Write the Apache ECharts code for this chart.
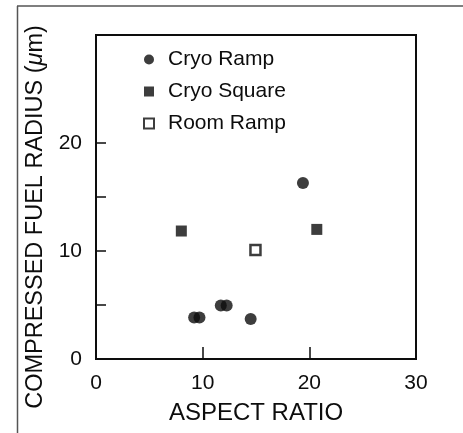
<!DOCTYPE html>
<html>
<head>
<meta charset="utf-8">
<script src="https://cdn.jsdelivr.net/npm/echarts@6/dist/echarts.min.js"></script>
<style>
  html, body { margin: 0; padding: 0; background: #fff; }
  #chart { width: 463px; height: 433px; }
</style>
</head>
<body>
<div id="chart"></div>
<script>
// Aspect ratio vs. compressed fuel radius, three target/pulse groups
const cryoRampAspect = [19.4, 9.2, 9.7, 11.7, 12.25, 14.5];
const cryoRampRadius = [16.3, 3.85, 3.85, 4.95, 4.95, 3.7];

const cryoSquareAspect = [8.0, 20.7];
const cryoSquareRadius = [11.85, 12.0];

const roomRampAspect = [14.95];
const roomRampRadius = [10.1];

const xTickValues = [10, 20];
const xLabelValues = [0, 10, 20, 30];
const yTickValues = [5, 10, 15, 20];
const yLabelValues = [0, 10, 20];

const pairs = (xs, ys) => xs.map((x, i) => [x, ys[i]]);

const FONT = "'Liberation Sans', Arial, Helvetica, sans-serif";
const INK = '#0d0d0d';

const chart = echarts.init(document.getElementById('chart'), null, { renderer: 'canvas' });

chart.setOption({
  backgroundColor: '#ffffff',
  animation: false,
  textStyle: { fontFamily: FONT, color: INK },
  grid: {
    left: 96, top: 35, width: 320, height: 324,
    show: true, borderColor: INK, borderWidth: 2, backgroundColor: 'transparent'
  },
  legend: {
    orient: 'vertical',
    left: 138, top: 44,
    itemWidth: 10, itemHeight: 10,
    itemGap: 11,
    selectedMode: false,
    textStyle: { fontFamily: FONT, fontSize: 21, lineHeight: 21, color: INK, padding: [0, 0, 0, 9] },
    data: ['Cryo Ramp', 'Cryo Square', 'Room Ramp']
  },
  xAxis: {
    type: 'value', min: 0, max: 30, interval: 10,
    name: 'ASPECT RATIO', nameLocation: 'middle', nameGap: 42,
    nameTextStyle: { fontFamily: FONT, fontSize: 24, color: INK },
    axisLine: { show: true, onZero: false, lineStyle: { color: INK, width: 2 } },
    axisTick: { show: true, inside: true, length: 12, customValues: xTickValues, lineStyle: { color: INK, width: 1.5 } },
    axisLabel: { customValues: xLabelValues, margin: 14, fontFamily: FONT, fontSize: 21, color: INK },
    splitLine: { show: false }
  },
  yAxis: {
    type: 'value', min: 0, max: 30, interval: 5,
    name: 'COMPRESSED FUEL RADIUS ({mu|μ}m)', nameLocation: 'middle', nameGap: 42,
    nameRotate: 90,
    nameTextStyle: {
      fontFamily: FONT, fontSize: 23.5, color: INK, padding: [0, 40, 0, 0],
      rich: { mu: { fontFamily: FONT, fontSize: 23.5, fontStyle: 'italic', color: INK } }
    },
    axisLine: { show: true, onZero: false, lineStyle: { color: INK, width: 2 } },
    axisTick: { show: true, inside: true, length: 10, customValues: yTickValues, lineStyle: { color: INK, width: 1.5 } },
    axisLabel: { customValues: yLabelValues, margin: 14, fontFamily: FONT, fontSize: 21, color: INK },
    splitLine: { show: false }
  },
  graphic: [
    { type: 'line', silent: true, shape: { x1: 17, y1: 6, x2: 463, y2: 6 }, style: { stroke: '#555', lineWidth: 1.5 } },
    { type: 'line', silent: true, shape: { x1: 17.5, y1: 6, x2: 17.5, y2: 433 }, style: { stroke: '#555', lineWidth: 1.5 } }
  ],
  series: [
    {
      name: 'Cryo Ramp', type: 'scatter', symbol: 'circle', symbolSize: 12,
      itemStyle: { color: INK },
      data: pairs(cryoRampAspect, cryoRampRadius)
    },
    {
      name: 'Cryo Square', type: 'scatter', symbol: 'rect', symbolSize: 11,
      itemStyle: { color: INK },
      data: pairs(cryoSquareAspect, cryoSquareRadius)
    },
    {
      name: 'Room Ramp', type: 'scatter', symbol: 'rect', symbolSize: 10,
      itemStyle: { color: '#ffffff', borderColor: INK, borderWidth: 2.5 },
      data: pairs(roomRampAspect, roomRampRadius)
    }
  ]
});
</script>
</body>
</html>
